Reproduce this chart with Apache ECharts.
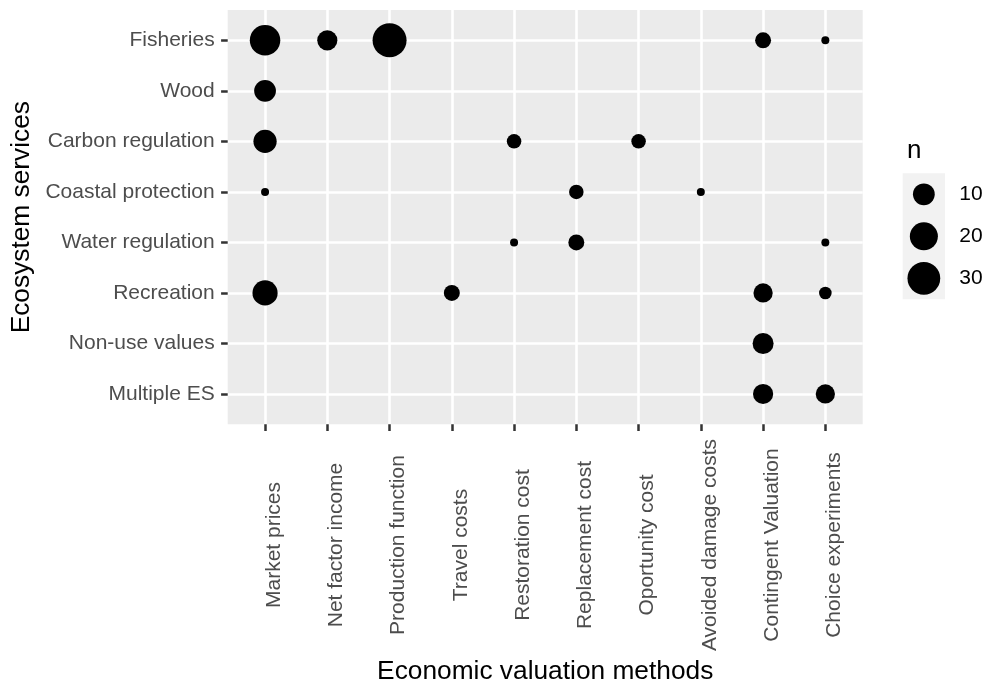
<!DOCTYPE html>
<html>
<head>
<meta charset="utf-8">
<script src="https://cdn.jsdelivr.net/npm/echarts@6/dist/echarts.min.js"></script>
<style>
html,body{margin:0;padding:0;background:#fff;}
#chart{width:985px;height:684px;}
</style>
</head>
<body>
<div id="chart"></div>
<script>
const services = ['Fisheries','Wood','Carbon regulation','Coastal protection','Water regulation','Recreation','Non-use values','Multiple ES'];
const methods = ['Market prices','Net factor income','Production function','Travel costs','Restoration cost','Replacement cost','Oportunity cost','Avoided damage costs','Contingent Valuation','Choice experiments'];

// number of studies (n) per service, by method (0 = none)
const fisheries     = [25, 8, 33, 0, 0, 0, 0, 0, 4, 1];
const wood          = [10, 0, 0, 0, 0, 0, 0, 0, 0, 0];
const carbon        = [12, 0, 0, 0, 3, 0, 3, 0, 0, 0];
const coastal       = [1, 0, 0, 0, 0, 3, 0, 1, 0, 0];
const water         = [0, 0, 0, 0, 1, 4, 0, 0, 0, 1];
const recreation    = [15, 0, 0, 4, 0, 0, 0, 0, 7, 2];
const nonUse        = [0, 0, 0, 0, 0, 0, 0, 0, 9, 0];
const multipleES    = [0, 0, 0, 0, 0, 0, 0, 0, 8, 7];
const legendValues  = [10, 20, 30];

const rows = [fisheries, wood, carbon, coastal, water, recreation, nonUse, multipleES];
const points = [];
rows.forEach((row, yi) => row.forEach((n, xi) => { if (n > 0) points.push([xi, yi, n]); }));
const allN = points.map(p => p[2]);
const nMin = Math.min(...allN), nMax = Math.max(...allN);
function sizeOf(n) { return 8 + 26 * Math.sqrt(Math.max(0, (n - nMin) / (nMax - nMin))); }

const FONT = 'Liberation Sans, Arial, Helvetica, sans-serif';
const xTicks = methods.map((_, i) => i);
const yTicks = services.map((_, i) => i);

const chart = echarts.init(document.getElementById('chart'), null, {renderer: 'canvas'});
chart.setOption({
  animation: false,
  backgroundColor: '#ffffff',
  textStyle: {fontFamily: FONT},
  title: {
    text: 'n', left: 902, top: 133,
    textStyle: {fontFamily: FONT, fontSize: 26, fontWeight: 'normal', color: '#000'}
  },
  grid: [
    {left: 227.7, top: 10, width: 635, height: 414.3, show: true, backgroundColor: '#EBEBEB', borderWidth: 0, containLabel: false, outerBoundsMode: 'none'},
    {left: 902.7, top: 173.3, width: 42.3, height: 126, show: true, backgroundColor: '#F2F2F2', borderWidth: 0, containLabel: false, outerBoundsMode: 'none'}
  ],
  xAxis: [
    {
      type: 'value', gridIndex: 0, min: -0.6, max: 9.6, position: 'bottom',
      axisLine: {show: false, onZero: false},
      axisTick: {show: true, length: 6.6, customValues: xTicks, lineStyle: {color: '#333333', width: 2.5}},
      splitLine: {show: true, lineStyle: {color: '#ffffff', width: 2.6}},
      axisLabel: {
        customValues: xTicks, formatter: v => methods[Math.round(v)],
        rotate: 90, align: 'center', verticalAlign: 'top', margin: 120.7,
        fontSize: 21, lineHeight: 18, color: '#4D4D4D', fontFamily: FONT
      },
      name: 'Economic valuation methods', nameLocation: 'middle', nameGap: 233,
      nameTextStyle: {fontSize: 26.3, color: '#000', fontFamily: FONT, verticalAlign: 'top'}
    },
    {type: 'value', gridIndex: 1, min: -1, max: 1, show: false}
  ],
  yAxis: [
    {
      type: 'value', gridIndex: 0, inverse: true, min: -0.6, max: 7.6, position: 'left',
      axisLine: {show: false, onZero: false},
      axisTick: {show: true, length: 6.6, customValues: yTicks, lineStyle: {color: '#333333', width: 2.5}},
      splitLine: {show: true, lineStyle: {color: '#ffffff', width: 2.6}},
      axisLabel: {
        customValues: yTicks, formatter: v => services[Math.round(v)],
        margin: 13, fontSize: 21, color: '#4D4D4D', fontFamily: FONT, padding: [4, 0, 0, 0]
      },
      name: 'Ecosystem services', nameLocation: 'middle', nameGap: 190,
      nameTextStyle: {fontSize: 26.3, color: '#000', fontFamily: FONT}
    },
    {
      type: 'category', gridIndex: 1, position: 'right', inverse: true, data: legendValues.map(String),
      axisLine: {show: false, onZero: false}, axisTick: {show: false}, splitLine: {show: false},
      axisLabel: {margin: 14.3, fontSize: 21, color: '#000', fontFamily: FONT, align: 'left', padding: [4, 0, 0, 0]}
    }
  ],
  series: [
    {
      type: 'scatter', xAxisIndex: 0, yAxisIndex: 0,
      data: points, symbol: 'circle',
      symbolSize: v => sizeOf(v[2]),
      itemStyle: {color: '#000000', opacity: 1},
      emphasis: {disabled: true}, silent: true
    },
    {
      type: 'scatter', xAxisIndex: 1, yAxisIndex: 1,
      data: legendValues.map(v => [0, String(v), v]), symbol: 'circle',
      symbolSize: v => sizeOf(v[2]),
      itemStyle: {color: '#000000', opacity: 1},
      emphasis: {disabled: true}, silent: true
    }
  ]
});
</script>
</body>
</html>
